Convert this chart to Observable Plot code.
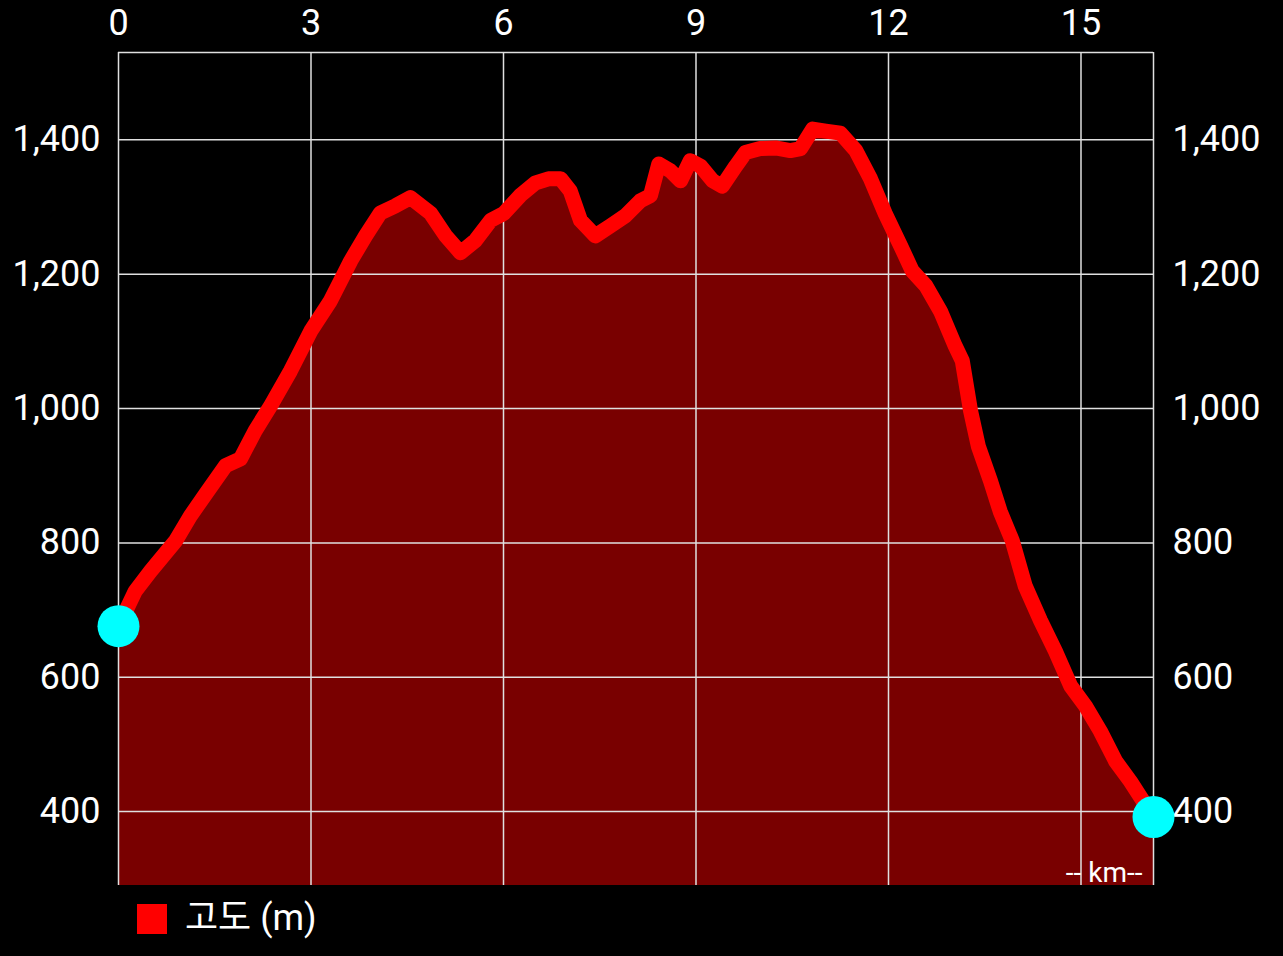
<!DOCTYPE html>
<html>
<head>
<meta charset="utf-8">
<script src="https://cdn.jsdelivr.net/npm/d3@7"></script>
<script src="https://cdn.jsdelivr.net/npm/@observablehq/plot@0.6"></script>
<style>
  html, body { margin: 0; padding: 0; background: #000; width: 1283px; height: 956px; overflow: hidden; }
  #chart svg { display: block; }
  #legend { position: relative; height: 69px; font-family: Roboto, "Noto Sans CJK KR", sans-serif; color: #fff; }
  #legend .sw { position: absolute; left: 137px; top: 17px; width: 30px; height: 30px; background: #ff0000; }
  #legend .lb { position: absolute; left: 185px; top: 9px; font-size: 36px; line-height: 44px; }
</style>
</head>
<body>
<div id="chart"></div>
<div id="legend"><div class="sw"></div><div class="lb">고도 (m)</div></div>
<script>
const km = [0, 0.26, 0.5, 0.89, 1.12, 1.36, 1.67, 1.9, 2.13, 2.37, 2.68, 3.0, 3.3, 3.62, 3.85, 4.08, 4.32, 4.55, 4.86, 5.1, 5.33, 5.56, 5.8, 6.0, 6.26, 6.5, 6.7, 6.89, 7.04, 7.2, 7.43, 7.67, 7.9, 8.13, 8.29, 8.42, 8.6, 8.76, 8.91, 9.07, 9.26, 9.41, 9.62, 9.77, 10.0, 10.24, 10.47, 10.63, 10.82, 11.02, 11.25, 11.49, 11.72, 11.95, 12.19, 12.37, 12.58, 12.81, 13.04, 13.15, 13.28, 13.4, 13.59, 13.74, 13.93, 14.13, 14.37, 14.6, 14.84, 15.07, 15.3, 15.54, 15.77, 16.0, 16.13];
const elev = [676, 728, 758, 803, 840, 873, 915, 925, 967, 1004, 1056, 1116, 1160, 1220, 1257, 1291, 1302, 1314, 1291, 1257, 1232, 1250, 1280, 1290, 1317, 1336, 1342, 1342, 1324, 1280, 1257, 1272, 1287, 1309, 1317, 1364, 1354, 1339, 1369, 1361, 1339, 1331, 1361, 1381, 1387, 1388, 1384, 1387, 1416, 1413, 1410, 1384, 1342, 1290, 1242, 1205, 1183, 1145, 1093, 1071, 996, 944, 892, 847, 803, 736, 684, 639, 587, 557, 520, 475, 445, 411, 392];

const xTicks = [0, 3, 6, 9, 12, 15];
const yTicks = [400, 600, 800, 1000, 1200, 1400];
const xDomain = [0, 16.13];
const yDomain = [290, 1530];
const unitLabel = ["-- km--"];

const data = km.map((d, i) => ({km: d, elev: elev[i]}));
const ends = [data[0], data[data.length - 1]];
const fmt = d3.format(",");

const chart = Plot.plot({
  width: 1283,
  height: 887,
  marginLeft: 118,
  marginRight: 130,
  marginTop: 52,
  marginBottom: 2,
  x: {domain: xDomain},
  y: {domain: yDomain},
  style: {background: "#000", color: "#fff", fontFamily: "Roboto, sans-serif", fontSize: "36px"},
  marks: [
    Plot.axisX(xTicks, {anchor: "top", tickSize: 0, tickPadding: 18, label: null, fontSize: 36, fill: "#fff"}),
    Plot.axisY(yTicks, {anchor: "left", tickSize: 0, tickPadding: 18, tickFormat: fmt, label: null, fontSize: 36, fill: "#fff"}),
    Plot.axisY(yTicks, {anchor: "right", tickSize: 0, tickPadding: 19, tickFormat: fmt, label: null, fontSize: 36, fill: "#fff"}),
    Plot.areaY(data, {x: "km", y: "elev", fill: "#790000", clip: true}),
    Plot.ruleX(xTicks, {stroke: "#e0e0e0", strokeWidth: 1.5}),
    Plot.ruleX([xDomain[1]], {stroke: "#e0e0e0", strokeWidth: 1.5}),
    Plot.ruleY(yTicks, {stroke: "#e0e0e0", strokeWidth: 1.5}),
    Plot.ruleY([yDomain[1]], {stroke: "#e0e0e0", strokeWidth: 1.5}),
    Plot.text(unitLabel, {frameAnchor: "bottom-right", dx: -11, dy: -4, fontSize: 28, fill: "#fff"}),
    Plot.line(data, {x: "km", y: "elev", stroke: "#ff0000", strokeWidth: 15, strokeLinejoin: "round", strokeLinecap: "round"}),
    Plot.dot(ends, {x: "km", y: "elev", r: 21, fill: "#00ffff", stroke: "none"})
  ]
});
document.getElementById("chart").appendChild(chart);
</script>
</body>
</html>
